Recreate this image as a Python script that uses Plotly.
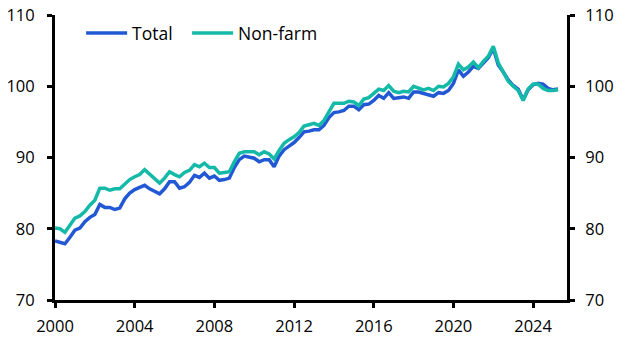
import plotly.graph_objects as go

years = [2000 + q * 0.25 for q in range(102)]  # 2000Q1 .. 2025Q2

total = [
    78.3, 78.1, 77.9, 78.8, 79.8, 80.1, 81.0, 81.6, 82.0, 83.4, 83.0, 83.0,
    82.7, 82.9, 84.2, 85.0, 85.5, 85.8, 86.1, 85.6, 85.2, 84.9, 85.6, 86.6,
    86.6, 85.7, 85.9, 86.5, 87.5, 87.2, 87.8, 87.1, 87.4, 86.8, 86.9, 87.1,
    88.6, 89.7, 90.2, 90.0, 89.9, 89.4, 89.7, 89.7, 88.7, 90.2, 91.1, 91.6,
    92.1, 92.8, 93.6, 93.7, 93.9, 93.9, 94.5, 95.6, 96.3, 96.4, 96.6, 97.2,
    97.2, 96.7, 97.4, 97.5, 98.0, 98.7, 98.3, 99.1, 98.3, 98.4, 98.5, 98.3,
    99.2, 99.2, 99.0, 98.9, 98.6, 99.1, 99.0, 99.4, 100.4, 102.3, 101.4, 102.0,
    102.8, 102.5, 103.3, 104.0, 105.3, 103.0, 102.0, 100.9, 100.1, 99.6, 98.1, 99.5,
    100.2, 100.4, 100.3, 99.7, 99.5, 99.6,
]

nonfarm = [
    80.1, 80.0, 79.5, 80.6, 81.5, 81.8, 82.4, 83.3, 84.0, 85.7, 85.7, 85.4,
    85.6, 85.6, 86.3, 86.9, 87.3, 87.6, 88.3, 87.7, 87.0, 86.4, 87.1, 88.0,
    87.6, 87.3, 87.9, 88.2, 89.0, 88.7, 89.2, 88.6, 88.6, 87.8, 87.9, 88.0,
    89.4, 90.6, 90.8, 90.8, 90.8, 90.4, 90.8, 90.5, 89.8, 91.0, 92.0, 92.5,
    92.9, 93.5, 94.4, 94.6, 94.8, 94.5, 95.2, 96.4, 97.6, 97.6, 97.6, 97.9,
    97.8, 97.3, 98.2, 98.4, 99.0, 99.6, 99.4, 100.1, 99.3, 99.1, 99.3, 99.2,
    100.0, 99.8, 99.5, 99.7, 99.4, 100.0, 99.9, 100.4, 101.3, 103.1, 102.3, 102.7,
    103.4, 102.6, 103.5, 104.2, 105.6, 103.3, 102.1, 100.7, 100.0, 99.4, 98.0, 99.6,
    100.3, 100.3, 99.7, 99.4, 99.4, 99.5,
]

x_ticks = [2000, 2004, 2008, 2012, 2016, 2020, 2024]
y_ticks = [70, 80, 90, 100, 110]

blue = "#2258D4"
teal = "#14B9A8"

fig = go.Figure()
fig.add_trace(go.Scatter(x=years, y=total, name="Total", mode="lines",
                         line=dict(color=blue, width=3.5), legend="legend"))
fig.add_trace(go.Scatter(x=years, y=nonfarm, name="Non-farm", mode="lines",
                         line=dict(color=teal, width=3.5), legend="legend2"))
fig.add_trace(go.Scatter(x=years, y=total, yaxis="y2", mode="lines",
                         line=dict(color="rgba(0,0,0,0)"), showlegend=False,
                         hoverinfo="skip"))

axis_font = dict(family="Open Sans, sans-serif", size=16.5, color="#000")
legend_font = dict(family="Open Sans, sans-serif", size=17.5, color="#000")

common_axis = dict(showgrid=False, zeroline=False, showline=True, linecolor="#000",
                   linewidth=3, ticks="outside", ticklen=5, tickwidth=3,
                   tickcolor="#000", tickfont=axis_font, automargin=False)

common_legend = dict(orientation="h", y=1.0, xanchor="left", yanchor="top",
                     font=legend_font, bgcolor="rgba(0,0,0,0)", itemwidth=41)

fig.update_layout(
    width=631, height=357,
    margin=dict(l=55, r=64, t=15, b=57),
    paper_bgcolor="white", plot_bgcolor="white",
    font=axis_font,
    showlegend=True,
    legend=dict(x=0.051, **common_legend),
    legend2=dict(x=0.258, **common_legend),
    xaxis=dict(range=[2000, 2025.7], tickvals=x_ticks,
               ticktext=[str(v) for v in x_ticks], ticklabelstandoff=4, **common_axis),
    yaxis=dict(range=[70, 110], tickvals=y_ticks, ticklabelstandoff=9, **common_axis),
    yaxis2=dict(range=[70, 110], tickvals=y_ticks, overlaying="y", side="right",
                ticklabelstandoff=7, **common_axis),
)

fig.write_html("out.html", config={"displayModeBar": False},
               post_script="document.body.style.margin='0';document.body.style.padding='0';")
